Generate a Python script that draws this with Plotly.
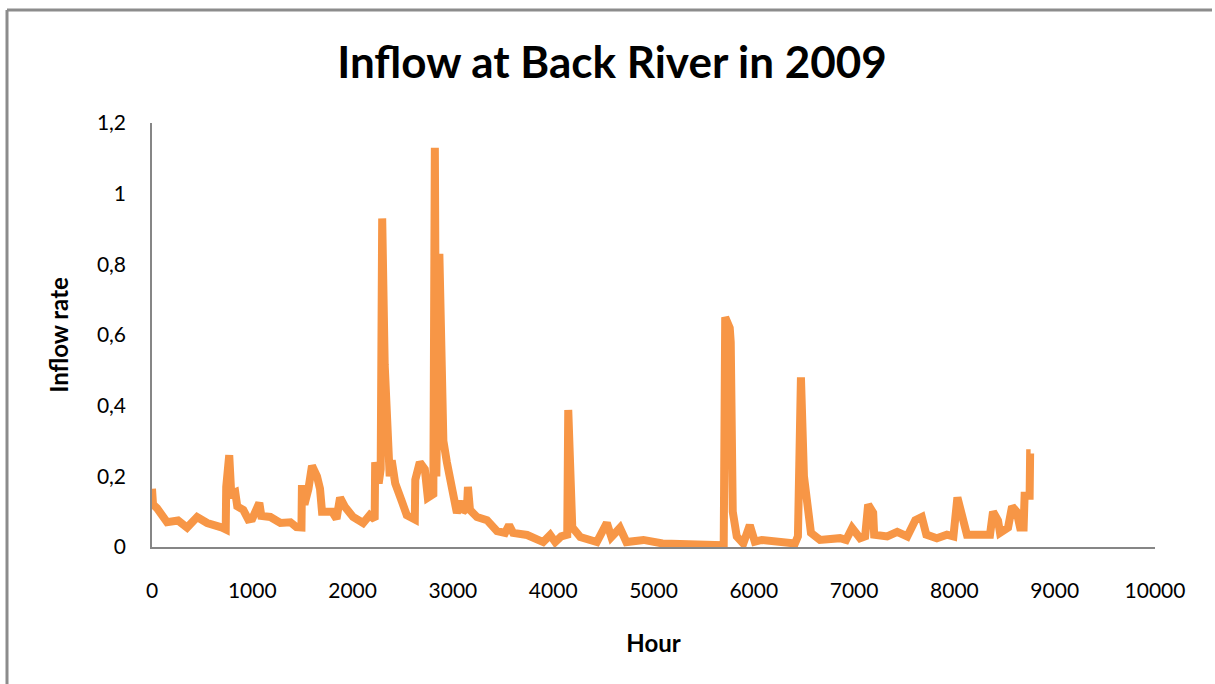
import plotly.graph_objects as go

hours = [0, 10, 50, 150, 260, 350, 450, 550, 700, 735, 740, 770, 790, 830, 850, 910,
         960, 1000, 1070, 1090, 1180, 1280, 1380, 1440, 1490, 1495, 1520, 1560, 1595, 1645,
         1675, 1695, 1795, 1840, 1875, 1925, 2005, 2105, 2170, 2220, 2225, 2260, 2280, 2295,
         2320, 2355, 2370, 2390, 2425, 2490, 2540, 2620, 2625, 2670, 2720, 2750, 2805, 2820,
         2835, 2865, 2890, 2905, 2940, 2970, 3000, 3040, 3080, 3100, 3140, 3150, 3170, 3240,
         3340, 3400, 3440, 3520, 3560, 3600, 3740, 3900, 3970, 4020, 4080, 4140, 4150, 4190,
         4270, 4435, 4535, 4580, 4665, 4730, 4900, 5090, 5430, 5700, 5715, 5760, 5770, 5790,
         5830, 5895, 5960, 6010, 6080, 6260, 6410, 6440, 6470, 6500, 6540, 6570, 6660, 6790,
         6860, 6920, 6980, 7060, 7110, 7140, 7190, 7200, 7330, 7430, 7530, 7610, 7675, 7720,
         7825, 7925, 7990, 8030, 8085, 8125, 8255, 8355, 8385, 8435, 8455, 8535, 8575, 8620,
         8655, 8690, 8700, 8750, 8755, 8760]

inflow = [0.165, 0.12, 0.11, 0.07, 0.075, 0.055, 0.085, 0.068, 0.055, 0.05, 0.17, 0.26, 0.15, 0.155, 0.115, 0.105,
          0.078, 0.08, 0.125, 0.088, 0.085, 0.068, 0.07, 0.056, 0.055, 0.175, 0.12, 0.165, 0.23, 0.2,
          0.165, 0.1, 0.1, 0.08, 0.14, 0.113, 0.085, 0.068, 0.09, 0.078, 0.24, 0.18, 0.22, 0.93,
          0.515, 0.32, 0.2, 0.245, 0.18, 0.13, 0.09, 0.078, 0.19, 0.24, 0.22, 0.14, 0.15, 1.13,
          0.2, 0.83, 0.445, 0.3, 0.24, 0.19, 0.15, 0.096, 0.13, 0.1, 0.11, 0.17, 0.105, 0.085,
          0.076, 0.057, 0.045, 0.04, 0.062, 0.04, 0.034, 0.014, 0.034, 0.014, 0.03, 0.035, 0.388, 0.056,
          0.028, 0.014, 0.068, 0.028, 0.054, 0.014, 0.02, 0.01, 0.006, 0.005, 0.65, 0.62, 0.58, 0.1,
          0.03, 0.01, 0.062, 0.015, 0.02, 0.015, 0.01, 0.03, 0.48, 0.2, 0.095, 0.04, 0.02, 0.025,
          0.025, 0.02, 0.054, 0.025, 0.03, 0.12, 0.097, 0.035, 0.03, 0.043, 0.03, 0.076, 0.085, 0.035,
          0.025, 0.035, 0.03, 0.14, 0.07, 0.035, 0.035, 0.035, 0.1, 0.075, 0.04, 0.055, 0.115, 0.1,
          0.055, 0.055, 0.145, 0.145, 0.265, 0.265]

x_ticks = [0, 1000, 2000, 3000, 4000, 5000, 6000, 7000, 8000, 9000, 10000]
x_tick_labels = ["0", "1000", "2000", "3000", "4000", "5000", "6000", "7000", "8000", "9000", "10000"]
y_ticks = [0, 0.2, 0.4, 0.6, 0.8, 1.0, 1.2]
y_tick_labels = ["0", "0,2", "0,4", "0,6", "0,8", "1", "1,2"]

FONT = "Lato"

fig = go.Figure()
fig.add_trace(go.Scatter(x=hours, y=inflow, mode="lines",
                         line=dict(color="#F79646", width=8), showlegend=False))

fig.update_layout(
    width=1215, height=684,
    margin=dict(l=152, r=60, t=123, b=137),
    paper_bgcolor="white", plot_bgcolor="white",
    font=dict(family=FONT, color="#000000", size=20),
    title=dict(text="<b>Inflow at Back River in 2009</b>", x=612 / 1215, xref="container",
               xanchor="center", y=1 - 63 / 684, yanchor="middle",
               font=dict(family=FONT, size=44, color="#000000")),
    shapes=[
        dict(type="line", xref="paper", yref="paper",
             x0=-145 / 1003, x1=1060 / 1003, y0=1 + 113 / 424, y1=1 + 113 / 424,
             line=dict(color="#8c8c8c", width=3)),
        dict(type="line", xref="paper", yref="paper",
             x0=-145 / 1003, x1=-145 / 1003, y0=1 + 113 / 424, y1=-140 / 424,
             line=dict(color="#8c8c8c", width=3)),
    ],
)

fig.update_xaxes(range=[0, 10000], tickvals=x_ticks, ticktext=x_tick_labels,
                 showgrid=False, zeroline=False, showline=True, linecolor="#868686",
                 linewidth=1.5, ticks="", ticklabelstandoff=24,
                 tickfont=dict(family=FONT, size=21, color="#000000"),
                 title=dict(text="<b>Hour</b>", standoff=34,
                            font=dict(family=FONT, size=24, color="#000000")))
fig.update_yaxes(range=[0, 1.2], tickvals=y_ticks, ticktext=y_tick_labels,
                 showgrid=False, zeroline=False, showline=True, linecolor="#868686",
                 linewidth=1.5, ticks="", ticklabelstandoff=20,
                 tickfont=dict(family=FONT, size=21, color="#000000"),
                 title=dict(text="<b>Inflow rate</b>", standoff=22,
                            font=dict(family=FONT, size=24, color="#000000")))

fig.write_html("out.html")
